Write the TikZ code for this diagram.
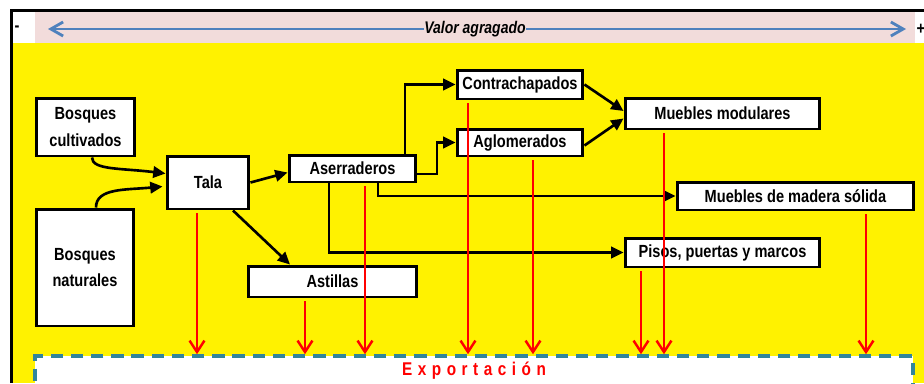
\documentclass[tikz,border=0pt]{standalone}
\usepackage{fontspec}
\setmainfont{Liberation Sans}[FakeStretch=0.83]
\usetikzlibrary{arrows.meta,calc}
\definecolor{bandpink}{HTML}{F2DCDB}
\definecolor{valorblue}{HTML}{4F81BD}
\definecolor{expteal}{HTML}{31859C}

\tikzset{
	box/.style={draw, line width=1.7pt, fill=white, align=center, inner sep=1pt,
		font=\bfseries\fontsize{10}{15}\selectfont},
	flow/.style={line width=1.5pt, -{Triangle[length=7pt,width=6.5pt]}},
	expflow/.style={red, line width=1.4pt, shorten <=1.5pt,
		-{Straight Barb[length=6.5pt,width=8.5pt,line width=1.4pt]}},
	valorarrow/.style={valorblue, line width=1.6pt, -{Straight Barb[length=7pt,width=8pt]}}
}

\begin{document}
\begin{tikzpicture}[x=0.02cm, y=-0.02cm]
		\useasboundingbox (0,0) rectangle (924,383);
		%background and frame
		\fill[yellow] (12,43) rectangle (924,383);
		\fill[bandpink] (35,12) rectangle (915,43);
		\draw[line width=1.6pt] (11.5,383) -- (11.5,10.5) -- (924,10.5);
		\node[font=\bfseries] (menos) at (17,29) {-};
		\node[font=\bfseries] (mas) at (921,29) {+};
		
		%value axis
		\node[fill=bandpink, inner sep=0pt, font=\bfseries\itshape\fontsize{9.6}{11}\selectfont] (valor) at (475,29) {Valor agragado};
		\coordinate (vl) at (48,29);
		\coordinate (vr) at (906,29);
		\draw[valorarrow] (valor.west) -- (vl);
		\draw[valorarrow] (valor.east) -- (vr);
		
		%boxes
		\node[box, minimum width=1.98cm, minimum height=1.16cm] (cult) at (85.5,127) {Bosques\\cultivados};
		\node[box, minimum width=1.96cm, minimum height=2.34cm] (nat) at (85,267.5) {Bosques\\naturales};
		\node[box, minimum width=1.64cm, minimum height=1.06cm] (tala) at (208,182.5) {Tala};
		\node[box, minimum width=2.54cm, minimum height=0.54cm] (aserr) at (352.5,168.5) {Aserraderos};
		\node[box, minimum width=2.52cm, minimum height=0.58cm] (contra) at (520,84.5) {Contrachapados};
		\node[box, minimum width=2.52cm, minimum height=0.54cm] (aglo) at (520,142.5) {Aglomerados};
		\node[box, minimum width=3.9cm, minimum height=0.62cm] (modul) at (722.5,113.5) {Muebles modulares};
		\node[box, minimum width=4.74cm, minimum height=0.56cm] (solida) at (795.5,196) {Muebles de madera sólida};
		\node[box, minimum width=3.9cm, minimum height=0.58cm] (pisos) at (722.5,252.5) {Pisos, puertas y marcos};
		\node[box, minimum width=3.38cm, minimum height=0.62cm] (astil) at (332.5,281.5) {Astillas};
		
		%wood flow
		\draw[flow] ($(cult.south)+(6.5,0)$) .. controls (92,170) and (120,168) .. ($(tala.west)+(0,-9)$);
		\draw[flow] ($(nat.north)+(11,0)$) .. controls (96,188) and (125,190) .. ($(tala.west)+(-3,4)$);
		\draw[flow] (tala.east) -- ($(aserr.west)+(0,4)$);
		\draw[flow] (233,0 |- tala.south) -- (290,0 |- astil.north);
		\draw[flow] (405,0 |- aserr.north) |- (contra.west);
		\draw[flow] ($(aserr.east)+(0,5.5)$) -| (437,0 |- aglo.west) -- (aglo.west);
		\draw[flow] (378,0 |- aserr.south) |- (solida.west);
		\draw[flow] (329,0 |- aserr.south) |- (pisos.west);
		\draw[flow] (contra.east) -- ($(modul.west)+(0,-2.5)$);
		\draw[flow] ($(aglo.east)+(0,3)$) -- ($(modul.west)+(0,5)$);
		
		%export
		\node[draw=expteal, fill=white, line width=2pt, dash pattern=on 7pt off 4.5pt,
			minimum width=17.56cm, minimum height=0.6cm, text=red,
			font=\bfseries\fontsize{10.5}{12}\selectfont\addfontfeature{LetterSpace=30}] (expo) at (474,371) {Exportación};
		
		\foreach \x/\n in {197/tala, 305/astil, 365/aserr, 468/contra, 533/aglo, 664/modul, 641/pisos, 866/solida}{
			\draw[expflow] (\x,0 |- \n.south) -- (\x,0 |- expo.north);
		}
\end{tikzpicture}
\end{document}
